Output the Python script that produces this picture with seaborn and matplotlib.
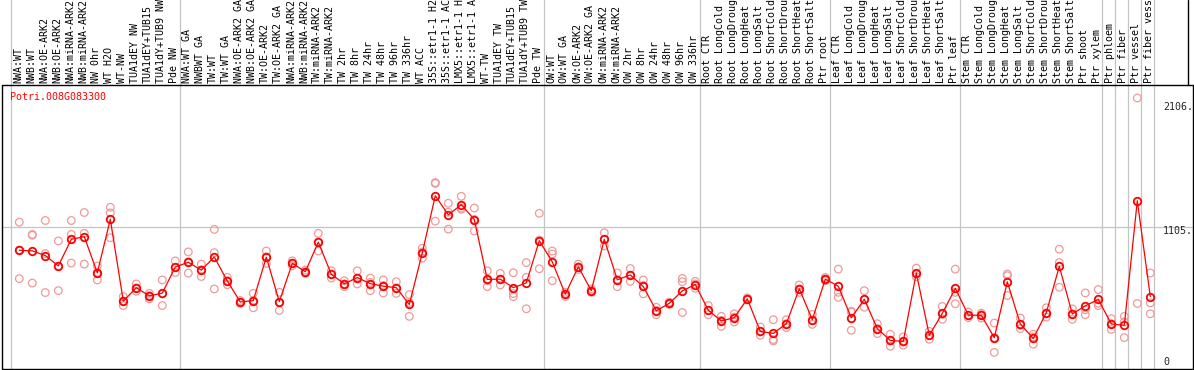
import matplotlib
matplotlib.use("Agg")
import matplotlib.pyplot as plt
import matplotlib.transforms as mtransforms
from matplotlib.lines import Line2D
import numpy as np
import pandas as pd
import seaborn as sns

# ----------------------------------------------------------------
# Data (replicate values, grouped by panel)
# ----------------------------------------------------------------
GENE = "Potri.008G083300"

NW_LABELS = ["NWA:WT", "NWB:WT", "NWA:OE-ARK2", "NWB:OE-ARK2", "NWA:miRNA-ARK2",
             "NWB:miRNA-ARK2", "NW 0hr", "WT H2O", "WT-NW", "TUA1dEY NW",
             "TUA1dEY+TUB15", "TUA1dY+TUB9 NW", "Pde NW"]
NW_VALUES = [[1141, 925, 702], [1046, 1039, 668], [1154, 897, 594], [995, 800, 609],
             [1154, 1046, 823], [1216, 1054, 815], [800, 750, 692], [1257, 1213, 1020],
             [563, 527, 493], [661, 630, 604], [588, 571, 545], [692, 584, 493],
             [840, 789, 750]]

TW_LABELS = ["NWA:WT GA", "NWBWT GA", "TW:WT", "TW:WT GA", "NWA:OE-ARK2 GA",
             "NWB:OE-ARK2 GA", "TW:OE-ARK2", "TW:OE-ARK2 GA", "NWA:miRNA-ARK2",
             "NWB:miRNA-ARK2", "TW:miRNA-ARK2", "TW:miRNA-ARK2", "TW 2hr", "TW 8hr",
             "TW 24hr", "TW 48hr", "TW 96hr", "TW 336hr", "WT ACC", "35S::etr1-1 H2",
             "35S::etr1-1 AC", "LMX5::etr1-1 H", "LMX5::etr1-1 A", "WT-TW",
             "TUA1dEY TW", "TUA1dEY+TUB15", "TUA1dY+TUB9 TW", "Pde TW"]
TW_VALUES = [[910, 833, 745], [815, 771, 719], [1085, 904, 622], [712, 686, 655],
             [532, 519, 511], [588, 532, 476], [917, 871, 820], [596, 519, 455],
             [840, 823, 802], [769, 756, 743], [1054, 987, 917], [763, 738, 707],
             [686, 661, 640], [763, 707, 661], [707, 673, 609], [692, 648, 591],
             [678, 630, 588], [578, 517, 409], [938, 910, 861], [1449, 1442, 1149],
             [1288, 1218, 1087], [1342, 1249, 1241], [1251, 1162, 1072], [763, 686, 640],
             [743, 699, 653], [748, 586, 563], [827, 712, 468], [1210, 1002, 779]]

OW_LABELS = ["OW:WT", "OW:WT GA", "OW:OE-ARK2", "OW:OE-ARK2 GA", "OW:miRNA-ARK2",
             "OW:miRNA-ARK2", "OW 2hr", "OW 8hr", "OW 24hr", "OW 48hr", "OW 96hr",
             "OW 336hr"]
OW_VALUES = [[917, 894, 686], [596, 584, 563], [815, 794, 773], [622, 609, 596],
             [1059, 1008, 956], [746, 694, 640], [781, 730, 681], [692, 648, 584],
             [480, 455, 422], [519, 511, 501], [704, 678, 439], [681, 661, 627]]

STRESS = ["CTR", "LongCold", "LongDroug", "LongHeat", "LongSalt",
          "ShortCold", "ShortDrou", "ShortHeat", "ShortSalt"]

ROOT_LABELS = ["Root " + s for s in STRESS] + ["Ptr root"]
ROOT_VALUES = [[493, 455, 422], [409, 378, 332], [429, 403, 365], [553, 545, 537],
               [326, 288, 262], [383, 229, 218], [383, 352, 321], [653, 622, 596],
               [424, 378, 347], [712, 699, 686]]

LEAF_LABELS = ["Leaf " + s for s in STRESS] + ["Ptr leaf"]
LEAF_VALUES = [[776, 596, 557], [449, 442, 301], [609, 537, 480], [352, 314, 275],
               [270, 218, 177], [249, 210, 185], [784, 738, 717], [293, 262, 231],
               [486, 424, 386], [776, 596, 507]]

STEM_LABELS = ["Stem " + s for s in STRESS] + ["Ptr shoot", "Ptr xylem"]
STEM_VALUES = [[442, 414, 399], [434, 422, 396], [357, 244, 129], [738, 725, 571],
               [396, 339, 314], [270, 249, 193], [476, 434, 403], [931, 827, 635],
               [468, 429, 386], [591, 460, 422], [617, 511, 493]]

TISSUE_LABELS = ["Ptr phloem", "Ptr fiber", "Ptr vessel", "Ptr fiber vess"]
TISSUE_VALUES = [[391, 352, 308], [409, 365, 244], [2106, 509], [746, 514, 429]]

Y_MARKS = [2106, 1105, 0]

GROUPS = [(NW_LABELS, NW_VALUES), (TW_LABELS, TW_VALUES), (OW_LABELS, OW_VALUES),
          (ROOT_LABELS, ROOT_VALUES), (LEAF_LABELS, LEAF_VALUES),
          (STEM_LABELS, STEM_VALUES)] + [([l], [v]) for l, v in zip(TISSUE_LABELS, TISSUE_VALUES)]

# ----------------------------------------------------------------
# Build long table
# ----------------------------------------------------------------
labels, rows, bounds = [], [], [0]
for glabels, gvalues in GROUPS:
    for lab, reps in zip(glabels, gvalues):
        pos = len(labels)
        labels.append(lab)
        for v in reps:
            rows.append({"pos": pos, "value": v})
    bounds.append(len(labels))
df = pd.DataFrame(rows)
n = len(labels)

# ----------------------------------------------------------------
# Figure
# ----------------------------------------------------------------
sns.set_style("white")
plt.rcParams["font.family"] = ["DejaVu Sans Mono"]

W, H = 1194, 370
fig = plt.figure(figsize=(W / 100, H / 100), dpi=100)
ax = fig.add_axes([10.5 / W, 1 / H, 1144 / W, 284 / H])
OFF = 0.677
ax.set_xlim(-OFF, n - OFF)
ax.set_ylim(0, 2207)
ax.axis("off")

GREY = "#c4c4c4"
for b in bounds:
    ax.axvline(b - OFF, ymin=0, ymax=369 / 284, color=GREY, lw=0.9, clip_on=False, zorder=0)
ax.axhline(1105, xmin=(2 - 10.5) / 1144, xmax=(1192 - 10.5) / 1144,
           color=GREY, lw=0.9, clip_on=False, zorder=0)

sns.scatterplot(data=df, x="pos", y="value", s=30, facecolor="none",
                edgecolor="#f09a9a", linewidth=0.9, ax=ax, zorder=2, legend=False)
sns.lineplot(data=df, x="pos", y="value", estimator="mean", errorbar=None,
             color="red", lw=0.9, marker="o", markersize=5.4,
             markerfacecolor="none", markeredgecolor="red", markeredgewidth=1.3,
             ax=ax, zorder=3)
ax.axis("off")

# column labels above the plot
lab_trans = mtransforms.blended_transform_factory(ax.transData, ax.transAxes)
for i, lab in enumerate(labels):
    ax.text(i - 0.1, 1 + 2 / 284, lab, transform=lab_trans, rotation=90,
            ha="center", va="bottom", fontsize=7.2, color="black", clip_on=False)

# right-hand value marks
val_trans = mtransforms.blended_transform_factory(fig.transFigure, ax.transData)
for v, dy in zip(Y_MARKS, [-9, -4, 7]):
    txt = f"{v}." if v else "0"
    ax.annotate(txt, xy=(1163 / W, v), xycoords=val_trans, xytext=(0, dy),
                textcoords="offset pixels", va="center", ha="left", fontsize=7.2,
                annotation_clip=False)

fig.text(10 / W, 1 - 97 / H, GENE, color="red", va="center", ha="left", fontsize=7.2)

# frame lines
def px_line(x0, y0, x1, y1):
    fig.add_artist(Line2D([x0 / W, x1 / W], [1 - y0 / H, 1 - y1 / H],
                          transform=fig.transFigure, color="black", lw=1.0))

px_line(2, 85, 1193, 85)
px_line(2, 368.5, 1193, 368.5)
px_line(2, 85, 2, 369)
px_line(1192.5, 85, 1192.5, 369)
px_line(1188, 0, 1188, 85)

fig.savefig("out.png", dpi=100)
